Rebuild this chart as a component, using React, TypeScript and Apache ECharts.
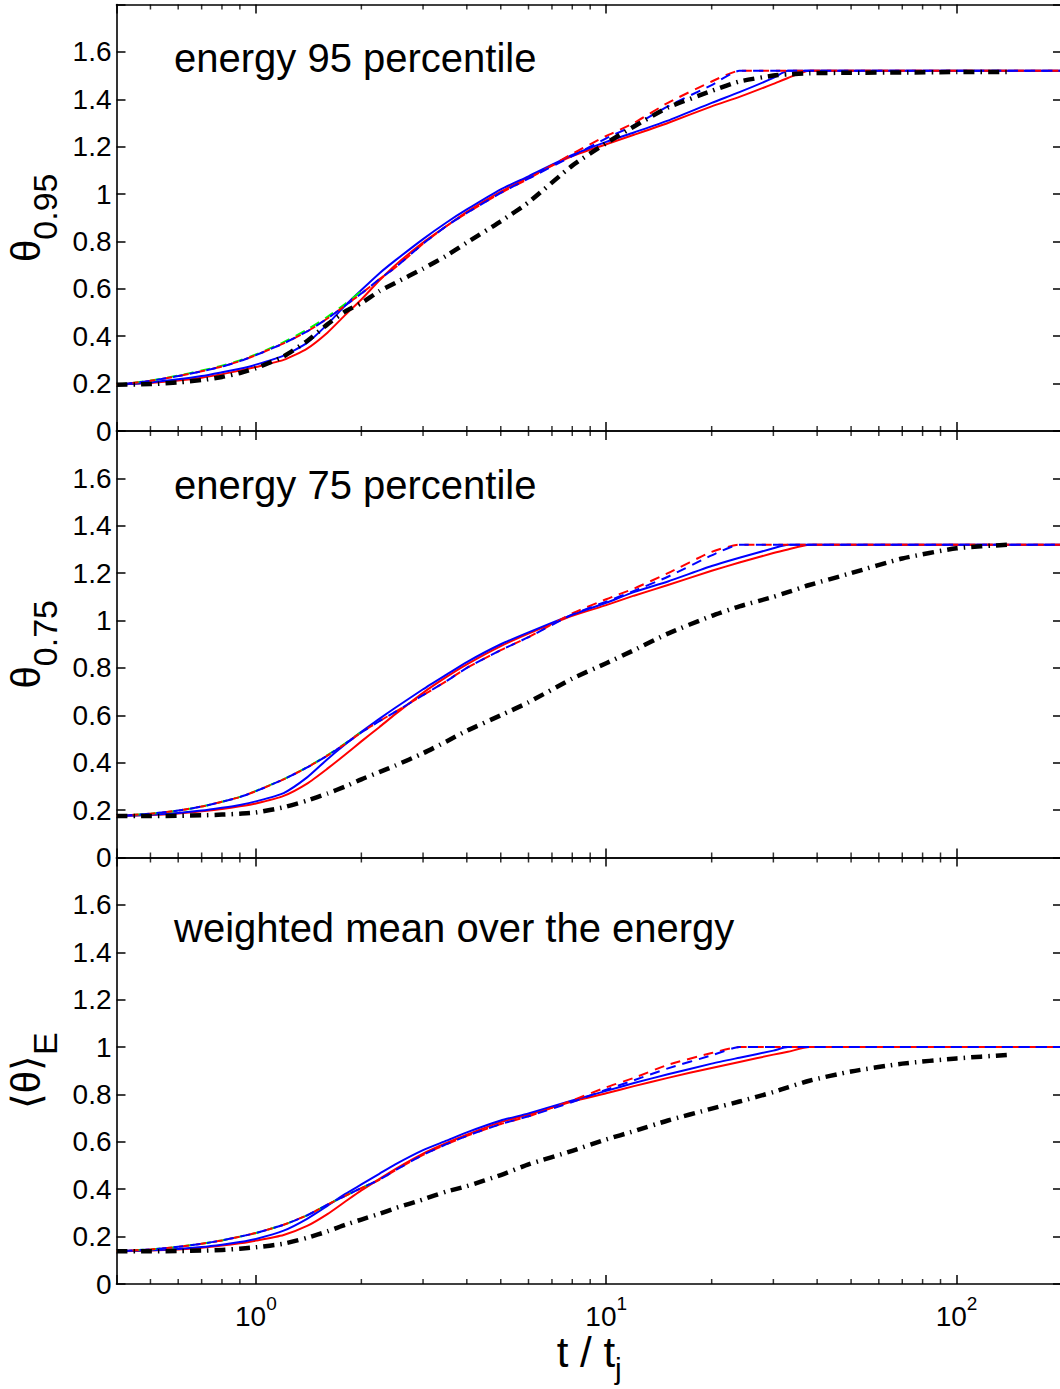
import React, { useEffect, useRef } from 'react';
import * as echarts from 'echarts';

// ---------- data ----------
const T_VALUES = [0.4, 0.5, 0.6, 0.7, 0.8, 0.9, 1, 1.2, 1.4, 1.6, 1.8, 2, 2.25, 2.5, 3, 3.5, 4, 5, 6, 8, 10, 12, 15, 20, 24, 30, 33, 38, 50, 70, 100, 140, 200];

const X_MIN = 0.4;
const X_MAX = 200;
const Y_MIN = 0;
const Y_MAX = 1.8;
const Y_INTERVAL = 0.2;
const MINOR_TICKS = [0.5, 0.6, 0.7, 0.8, 0.9, 2, 3, 4, 5, 6, 7, 8, 9, 20, 30, 40, 50, 60, 70, 80, 90];

const PANEL_TITLES = ['energy 95 percentile', 'energy 75 percentile', 'weighted mean over the energy'];
const Y_NAME_MAIN = ['θ', 'θ', '⟨θ⟩'];
const Y_NAME_SUB = ['0.95', '0.75', 'E'];
const X_NAME_MAIN = 't / t';
const X_NAME_SUB = 'j';

// panel 1: theta 0.95
const redSolid95 = [0.195, 0.203, 0.213, 0.225, 0.24, 0.255, 0.27, 0.30, 0.348, 0.415, 0.49, 0.555, 0.635, 0.70, 0.795, 0.865, 0.925, 1.01, 1.07, 1.16, 1.21, 1.25, 1.30, 1.37, 1.41, 1.465, 1.49, 1.52, 1.52, 1.52, 1.52, 1.52, 1.52];
const blueSolid95 = [0.195, 0.205, 0.218, 0.232, 0.248, 0.263, 0.28, 0.318, 0.372, 0.45, 0.53, 0.595, 0.665, 0.72, 0.81, 0.88, 0.935, 1.02, 1.075, 1.165, 1.22, 1.26, 1.31, 1.385, 1.43, 1.49, 1.52, 1.52, 1.52, 1.52, 1.52, 1.52, 1.52];
const greenDash95 = [0.195, 0.213, 0.234, 0.255, 0.276, 0.298, 0.323, 0.375, 0.428, 0.482, 0.537, 0.59, null, null, null, null, null, null, null, null, null, null, null, null, null, null, null, null, null, null, null, null, null];
const redDash95 = [0.195, 0.212, 0.232, 0.252, 0.272, 0.295, 0.32, 0.37, 0.42, 0.475, 0.53, 0.58, 0.64, 0.69, 0.79, 0.865, 0.92, 1.005, 1.065, 1.17, 1.245, 1.30, 1.385, 1.475, 1.52, 1.52, 1.52, 1.52, 1.52, 1.52, 1.52, 1.52, 1.52];
const blueDash95 = [0.195, 0.212, 0.232, 0.252, 0.272, 0.295, 0.32, 0.37, 0.42, 0.475, 0.53, 0.58, 0.64, 0.69, 0.79, 0.865, 0.92, 1.005, 1.065, 1.16, 1.235, 1.29, 1.37, 1.46, 1.52, 1.52, 1.52, 1.52, 1.52, 1.52, 1.52, 1.52, 1.52];
const black95 = [0.195, 0.198, 0.205, 0.215, 0.228, 0.245, 0.265, 0.315, 0.38, 0.45, 0.505, 0.54, 0.59, 0.625, 0.685, 0.74, 0.795, 0.885, 0.965, 1.12, 1.215, 1.285, 1.365, 1.435, 1.475, 1.5, 1.505, 1.51, 1.512, 1.513, 1.515, 1.515, null];

// panel 2: theta 0.75
const redSolid75 = [0.175, 0.179, 0.186, 0.195, 0.205, 0.216, 0.228, 0.26, 0.312, 0.375, 0.435, 0.49, 0.55, 0.605, 0.695, 0.762, 0.815, 0.892, 0.945, 1.02, 1.065, 1.105, 1.15, 1.21, 1.245, 1.285, 1.30, 1.32, 1.32, 1.32, 1.32, 1.32, 1.32];
const blueSolid75 = [0.175, 0.18, 0.188, 0.198, 0.21, 0.222, 0.237, 0.272, 0.338, 0.415, 0.478, 0.53, 0.585, 0.632, 0.71, 0.772, 0.825, 0.9, 0.95, 1.025, 1.075, 1.12, 1.165, 1.23, 1.265, 1.305, 1.32, 1.32, 1.32, 1.32, 1.32, 1.32, 1.32];
const greenDash75 = [0.175, 0.185, 0.198, 0.215, 0.235, 0.256, 0.281, 0.331, 0.381, 0.432, 0.482, 0.53, null, null, null, null, null, null, null, null, null, null, null, null, null, null, null, null, null, null, null, null, null];
const redDash75 = [0.175, 0.185, 0.198, 0.215, 0.235, 0.255, 0.28, 0.33, 0.38, 0.43, 0.48, 0.528, 0.575, 0.615, 0.685, 0.745, 0.80, 0.875, 0.93, 1.03, 1.09, 1.135, 1.20, 1.29, 1.32, 1.32, 1.32, 1.32, 1.32, 1.32, 1.32, 1.32, 1.32];
const blueDash75 = [0.175, 0.185, 0.198, 0.215, 0.235, 0.255, 0.28, 0.33, 0.38, 0.43, 0.48, 0.528, 0.575, 0.615, 0.685, 0.745, 0.80, 0.875, 0.93, 1.025, 1.08, 1.125, 1.185, 1.275, 1.32, 1.32, 1.32, 1.32, 1.32, 1.32, 1.32, 1.32, 1.32];
const black75 = [0.175, 0.175, 0.176, 0.178, 0.181, 0.185, 0.19, 0.212, 0.24, 0.27, 0.3, 0.33, 0.36, 0.388, 0.44, 0.49, 0.535, 0.6, 0.655, 0.755, 0.82, 0.875, 0.945, 1.02, 1.06, 1.10, 1.12, 1.15, 1.2, 1.262, 1.305, 1.32, null];

// panel 3: energy-weighted mean
const redSolidE = [0.138, 0.141, 0.146, 0.153, 0.162, 0.172, 0.183, 0.207, 0.245, 0.295, 0.348, 0.395, 0.443, 0.485, 0.55, 0.595, 0.63, 0.683, 0.715, 0.77, 0.805, 0.835, 0.87, 0.912, 0.937, 0.968, 0.98, 1.0, 1.0, 1.0, 1.0, 1.0, 1.0];
const blueSolidE = [0.138, 0.142, 0.148, 0.156, 0.166, 0.177, 0.19, 0.225, 0.275, 0.33, 0.38, 0.42, 0.465, 0.505, 0.565, 0.605, 0.64, 0.69, 0.72, 0.775, 0.815, 0.848, 0.885, 0.93, 0.955, 0.985, 1.0, 1.0, 1.0, 1.0, 1.0, 1.0, 1.0];
const greenDashE = [0.138, 0.146, 0.157, 0.17, 0.184, 0.2, 0.215, 0.25, 0.29, 0.335, 0.372, 0.405, 0.44, null, null, null, null, null, null, null, null, null, null, null, null, null, null, null, null, null, null, null, null];
const redDashE = [0.138, 0.146, 0.157, 0.17, 0.184, 0.2, 0.215, 0.25, 0.29, 0.335, 0.372, 0.405, 0.44, 0.48, 0.545, 0.59, 0.625, 0.675, 0.708, 0.775, 0.83, 0.87, 0.925, 0.975, 1.0, 1.0, 1.0, 1.0, 1.0, 1.0, 1.0, 1.0, 1.0];
const blueDashE = [0.138, 0.146, 0.157, 0.17, 0.184, 0.2, 0.215, 0.25, 0.29, 0.335, 0.372, 0.405, 0.44, 0.48, 0.545, 0.59, 0.625, 0.675, 0.708, 0.768, 0.82, 0.86, 0.91, 0.965, 1.0, 1.0, 1.0, 1.0, 1.0, 1.0, 1.0, 1.0, 1.0];
const blackE = [0.138, 0.138, 0.139, 0.141, 0.144, 0.149, 0.155, 0.17, 0.195, 0.222, 0.25, 0.272, 0.296, 0.32, 0.357, 0.39, 0.413, 0.46, 0.505, 0.562, 0.61, 0.645, 0.69, 0.74, 0.77, 0.81, 0.83, 0.858, 0.897, 0.93, 0.952, 0.967, null];

const PANELS = [
  { red: redSolid95, blue: blueSolid95, green: greenDash95, redD: redDash95, blueD: blueDash95, black: black95 },
  { red: redSolid75, blue: blueSolid75, green: greenDash75, redD: redDash75, blueD: blueDash75, black: black75 },
  { red: redSolidE, blue: blueSolidE, green: greenDashE, redD: redDashE, blueD: blueDashE, black: blackE },
];

// ---------- layout / style ----------
const FONT = '"Liberation Sans", Arial, Helvetica, sans-serif';
const GRID_LEFT = 116.5;
const GRID_WIDTH = 945.5;
const GRID_TOPS = [4.5, 431, 857.5];
const GRID_HEIGHT = 426.5;
const TITLE_Y = [58, 484.5, 928];

function toData(vals: (number | null)[]) {
  const out: number[][] = [];
  T_VALUES.forEach((t, i) => {
    const v = vals[i];
    if (v !== null && v !== undefined) out.push([t, v]);
  });
  return out;
}

function isPow10(v: number) {
  const l = Math.log10(v);
  return Math.abs(l - Math.round(l)) < 1e-6;
}

function buildOption() {
  const grid: any[] = [];
  const xAxis: any[] = [];
  const yAxis: any[] = [];
  const series: any[] = [];
  const graphic: any[] = [];

  const tickStyle = { color: '#000', width: 1.5 };
  const lineAxis = { show: true, onZero: false, lineStyle: { color: '#000', width: 1.6 } };

  for (let p = 0; p < 3; p++) {
    grid.push({
      left: GRID_LEFT,
      width: GRID_WIDTH,
      top: GRID_TOPS[p],
      height: GRID_HEIGHT,
      containLabel: false,
      outerBoundsMode: 'none',
    });

    const isLast = p === 2;
    xAxis.push({
      type: 'log',
      logBase: 10,
      gridIndex: p,
      position: 'bottom',
      min: X_MIN,
      max: X_MAX,
      axisLine: lineAxis,
      axisTick: { show: true, inside: true, length: 9, lineStyle: tickStyle },
      splitLine: { show: false },
      axisLabel: {
        show: isLast,
        margin: 10,
        fontFamily: FONT,
        color: '#000',
        formatter: (v: number) => (isPow10(v) ? `{b|10}{s|${Math.round(Math.log10(v))}}` : ''),
        rich: {
          b: { fontSize: 28, lineHeight: 36, verticalAlign: 'bottom', fontFamily: FONT, color: '#000' },
          s: { fontSize: 19, lineHeight: 19, verticalAlign: 'top', fontFamily: FONT, color: '#000' },
        },
      },
      name: isLast ? `{m|${X_NAME_MAIN}}{s|${X_NAME_SUB}}` : '',
      nameLocation: 'middle',
      nameGap: 47,
      nameTextStyle: {
        fontFamily: FONT,
        color: '#000',
        rich: {
          m: { fontSize: 42, lineHeight: 52, verticalAlign: 'top', fontFamily: FONT, color: '#000' },
          s: { fontSize: 30, lineHeight: 30, verticalAlign: 'bottom', fontFamily: FONT, color: '#000' },
        },
      },
    });
    xAxis.push({
      type: 'log',
      logBase: 10,
      gridIndex: p,
      position: 'top',
      min: X_MIN,
      max: X_MAX,
      axisLine: lineAxis,
      axisTick: { show: true, inside: true, length: 9, lineStyle: tickStyle },
      splitLine: { show: false },
      axisLabel: { show: false },
    });
    yAxis.push({
      type: 'value',
      gridIndex: p,
      position: 'left',
      min: Y_MIN,
      max: Y_MAX,
      interval: Y_INTERVAL,
      axisLine: lineAxis,
      axisTick: { show: true, inside: true, length: 9, lineStyle: tickStyle },
      splitLine: { show: false },
      axisLabel: {
        show: true,
        margin: 5,
        fontSize: 28,
        fontFamily: FONT,
        color: '#000',
        showMinLabel: true,
        formatter: (v: number) => (v > Y_MAX - 0.05 ? '' : String(Math.round(v * 10) / 10)),
      },
      name: `{t|${Y_NAME_MAIN[p]}}{s|${Y_NAME_SUB[p]}}`,
      nameLocation: 'middle',
      nameRotate: 90,
      nameGap: 54,
      nameTextStyle: {
        fontFamily: FONT,
        color: '#000',
        rich: {
          t: { fontSize: 40, lineHeight: 56, verticalAlign: 'top', fontFamily: FONT, color: '#000' },
          s: { fontSize: 34, lineHeight: 34, verticalAlign: 'bottom', fontFamily: FONT, color: '#000' },
        },
      },
    });
    yAxis.push({
      type: 'value',
      gridIndex: p,
      position: 'right',
      min: Y_MIN,
      max: Y_MAX,
      interval: Y_INTERVAL,
      axisLine: lineAxis,
      axisTick: { show: true, inside: true, length: 9, lineStyle: tickStyle },
      splitLine: { show: false },
      axisLabel: { show: false },
    });

    const xi = p * 2;
    const yi = p * 2;
    const d = PANELS[p];
    const mk = (vals: (number | null)[], color: string, type: any, width: number, z: number, dashOffset = 0) => ({
      type: 'line',
      xAxisIndex: xi,
      yAxisIndex: yi,
      data: toData(vals),
      showSymbol: false,
      symbol: 'none',
      silent: true,
      smooth: 0.2,
      z,
      lineStyle: { color, width, type, cap: 'butt', join: 'round', dashOffset },
    });
    series.push(mk(d.red, '#ff0000', 'solid', 2, 2));
    series.push(mk(d.blue, '#0000ff', 'solid', 2, 3));
    series.push(mk(d.green, '#00ff00', [10, 7], 2, 4, 0));
    series.push(mk(d.redD, '#ff0000', [10, 7], 2, 5, 5));
    series.push(mk(d.blueD, '#0000ff', [10, 7], 2, 6, 11));
    series.push(mk(d.black, '#000000', [11, 6, 1.5, 6], 4.5, 7));

    series.push({
      type: 'scatter',
      xAxisIndex: xi,
      yAxisIndex: yi,
      data: MINOR_TICKS.map((t) => [t, Y_MIN]),
      symbol: 'rect',
      symbolSize: [1.5, 5],
      symbolOffset: [0, -2.5],
      itemStyle: { color: '#000' },
      silent: true,
      clip: false,
      z: 10,
    });
    series.push({
      type: 'scatter',
      xAxisIndex: xi,
      yAxisIndex: yi,
      data: MINOR_TICKS.map((t) => [t, Y_MAX]),
      symbol: 'rect',
      symbolSize: [1.5, 5],
      symbolOffset: [0, 2.5],
      itemStyle: { color: '#000' },
      silent: true,
      clip: false,
      z: 10,
    });

    graphic.push({
      type: 'text',
      x: 174,
      y: TITLE_Y[p],
      silent: true,
      style: {
        text: PANEL_TITLES[p],
        fontSize: 40,
        fontFamily: FONT,
        fill: '#000',
        align: 'left',
        verticalAlign: 'middle',
      },
    });
  }

  return {
    animation: false,
    backgroundColor: '#ffffff',
    grid,
    xAxis,
    yAxis,
    series,
    graphic,
  };
}

function Chart() {
  const ref = useRef<HTMLDivElement | null>(null);
  useEffect(() => {
    if (!ref.current) return;
    const chart = echarts.init(ref.current, undefined, { renderer: 'svg' });
    chart.setOption(buildOption() as any);
    return () => {
      chart.dispose();
    };
  }, []);
  return <div ref={ref} style={{ width: 1060, height: 1389 }} />;
}

export default function App() {
  return (
    <div style={{ position: 'absolute', left: 0, top: 0, width: 1060, height: 1389, overflow: 'hidden', background: '#fff' }}>
      <Chart />
    </div>
  );
}
